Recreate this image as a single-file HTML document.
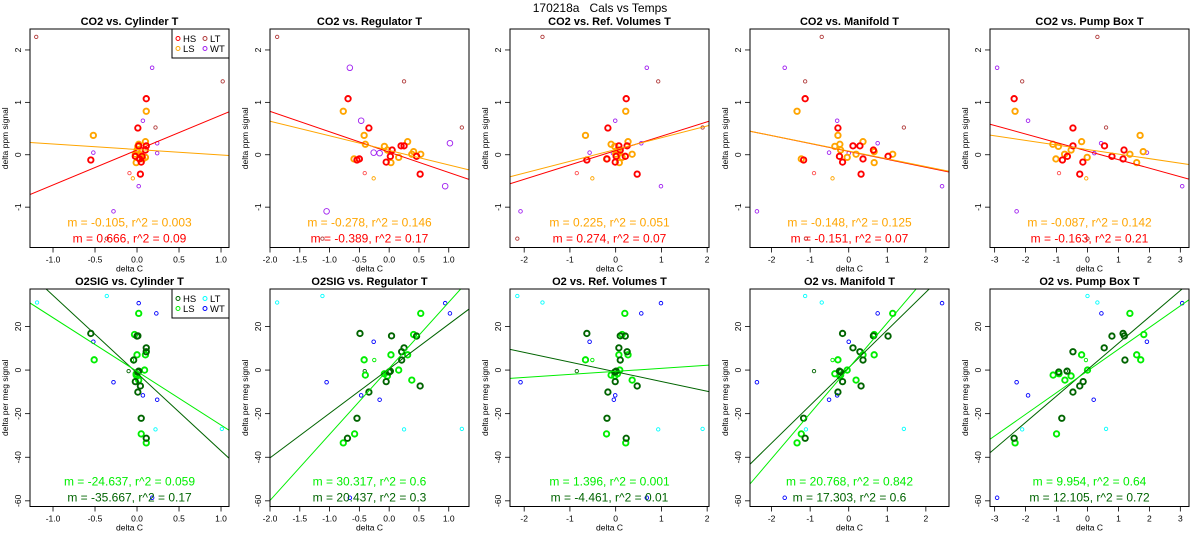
<!DOCTYPE html>
<html><head><meta charset="utf-8"><style>
html,body{margin:0;padding:0;background:#fff}
svg{display:block;font-family:"Liberation Sans",Arial,sans-serif}
</style></head><body>
<svg id="fig" width="1200" height="550" viewBox="0 0 1200 550" xmlns="http://www.w3.org/2000/svg">
<text x="600" y="12" text-anchor="middle" font-size="12" style="white-space:pre">170218a   Cals vs Temps</text>
</svg>
<script>
// ---- axis ranges ----
const xRanges = [[-1.274,1.095],[-2.0,1.34],[-2.31,2.04],[-2.56,2.6],[-3.15,3.28]];
const xTicks = [[-1.0,-0.5,0.0,0.5,1.0],[-2.0,-1.5,-1.0,-0.5,0.0,0.5,1.0],[-2,-1,0,1,2],[-2,-1,0,1,2],[-3,-2,-1,0,1,2,3]];
const xTickLabels = [["-1.0","-0.5","0.0","0.5","1.0"],["-2.0","-1.5","-1.0","-0.5","0.0","0.5","1.0"],["-2","-1","0","1","2"],["-2","-1","0","1","2"],["-3","-2","-1","0","1","2","3"]];
const co2YRange = [-1.77,2.4];
const co2YTicks = [-1,0,1,2];
const o2YRange = [-62.6,37.2];
const o2YTicks = [-60,-40,-20,0,20];
const co2Titles = ["CO2 vs. Cylinder T","CO2 vs. Regulator T","CO2 vs. Ref. Volumes T","CO2 vs. Manifold T","CO2 vs. Pump Box T"];
const o2Titles = ["O2SIG vs. Cylinder T","O2SIG vs. Regulator T","O2 vs. Ref. Volumes T","O2 vs. Manifold T","O2 vs. Pump Box T"];

// ---- CO2 data ----
const co2HS_y = [1.07,0.51,0.17,0.17,-0.10,-0.03,-0.14,-0.37,-0.03,0.09,-0.08];
const co2HS_x = [[0.11,0.01,0.11,0.02,-0.55,-0.02,0.05,0.04,0.06,0.10,0.03],[-0.69,-0.34,0.2,0.25,-0.54,0.02,-0.05,0.52,0.46,0.05,-0.5],[0.23,-0.17,0.07,0.25,-0.63,0.01,-0.01,0.47,0.21,0.1,-0.19],[-1.13,-0.28,0.11,0.29,-1.17,-0.24,-0.16,0.32,1.02,0.64,0.37],[-2.37,-0.47,-0.47,0.55,-0.81,-0.65,-0.15,-0.25,0.79,1.18,1.15]];
const co2LS_y = [0.83,0.37,0.20,0.16,0.25,0.09,0.01,-0.08,-0.05,0.01,0.06,-0.15];
const co2LS_x = [[0.11,-0.52,0.02,0.01,0.10,0.0,0.03,0.07,0.1,-0.02,0.0,-0.01],[-0.77,-0.42,-0.40,-0.08,0.31,-0.03,0.38,-0.59,0.16,0.53,0.41,0.03],[0.22,-0.66,-0.1,-0.02,0.27,0.04,0.36,-0.2,0.14,0,0.09,0.08],[-1.34,-0.28,-0.23,-0.36,0.37,-0.21,0.19,-1.23,-0.04,1.14,0.66,0.66],[-2.34,1.70,-1.12,-0.94,-0.19,-0.53,-0.74,-1.02,-0.01,1.37,1.80,1.59]];
const co2LT_y = [2.25,1.40,0.52,-1.60];
const co2LT_x = [[-1.2,1.02,0.22,-0.36],[-1.88,0.25,1.22,-1.12],[-1.6,0.93,1.9,-2.15],[-0.7,-1.13,1.43,-1.11],[0.32,-2.11,0.6,0.0]];
const co2WT_y = [1.66,0.65,0.22,0.04,0.03,-0.60,-1.08];
const co2WT_x = [[0.18,0.07,0.24,-0.52,0.24,0.02,-0.28],[-0.66,-0.47,1.02,-0.26,-0.16,0.94,-1.05],[0.68,-0.01,0.56,-0.57,-0.06,0.99,-2.08],[-1.66,-0.3,0.75,-0.51,0,2.42,-2.38],[-2.92,-1.92,0.44,1.92,0.22,3.06,-2.29]];
const co2HSt_y = [-0.35];
const co2HSt_x = [[-0.09],[-0.41],[-0.85],[-0.9],[-0.92]];
const co2LSt_y = [-0.45];
const co2LSt_x = [[-0.05],[-0.26],[-0.51],[-0.42],[-0.04]];
const co2HS_m = [0.666,-0.389,0.274,-0.151,-0.163];
const co2HS_a = [0.09,0.05,0.08,0.063,0.07];
const co2HS_r2 = ["0.09","0.17","0.07","0.07","0.21"];
const co2LS_m = [-0.105,-0.278,0.225,-0.148,-0.087];
const co2LS_a = [0.1,0.084,0.1,0.07,0.10];
const co2LS_r2 = ["0.003","0.146","0.051","0.125","0.142"];

// ---- O2 data ----
const o2HS_y = [-31.3,-22.1,-10.1,-7.3,-5.3,-0.5,-0.9,8.4,10.2,15.6,16.8,15.7,4.6];
const o2HS_x = [[0.11,0.05,0.01,0.04,-0.02,0.02,0.01,0.11,0.11,0.0,-0.55,0.01,-0.04],[-0.70,-0.54,-0.34,0.52,-0.05,0.02,0.0,0.21,0.25,0.46,-0.49,0.04,0.21],[0.23,-0.19,-0.17,0.47,-0.01,0.01,-0.02,0.25,0.07,0.21,-0.63,0.1,0.1],[-1.13,-1.17,-0.28,0.32,-0.16,-0.24,-0.21,0.29,0.11,1.02,-0.16,0.64,0.37],[-2.37,-0.83,-0.47,-0.25,-0.14,-0.66,-0.93,-0.47,0.54,0.79,1.15,1.19,1.21]];
const o2LS_y = [-33.4,-29.3,-4.6,-2.7,-2.3,-1.7,0,7.0,7.0,4.7,16.3,26.0];
const o2LS_x = [[0.11,0.05,0.02,0.0,-0.01,-0.01,0.09,0.0,0.1,-0.51,-0.03,0.02],[-0.77,-0.58,0.38,-0.03,-0.40,-0.08,0.16,0.03,0.31,-0.42,0.41,0.53],[0.22,-0.2,0.36,-0.02,-0.1,0.04,0.09,0.07,0.27,-0.66,0.14,0.2],[-1.34,-1.23,0.19,-0.23,-0.21,-0.36,-0.04,0.66,0.37,-0.28,0.66,1.14],[-2.34,-1.0,-0.73,-0.53,-1.11,-0.92,0,-0.19,1.59,1.72,1.82,1.37]];
const o2LT_y = [34,31,-27.2,-27];
const o2LT_x = [[-0.36,-1.19,0.22,1.01],[-1.12,-1.88,0.25,1.22],[-2.15,-1.6,0.93,1.9],[-1.13,-0.7,-1.11,1.43],[0,0.32,-2.11,0.6]];
const o2WT_y = [30.7,26,13,-5.6,-11.6,-13.6,-58.6];
const o2WT_x = [[0.02,0.23,-0.52,-0.28,0.07,0.24,0.18],[0.94,1.02,-0.26,-1.05,-0.47,-0.16,-0.66],[0.99,0.56,-0.57,-2.08,-0.01,-0.04,0.68],[2.42,0.75,0,-2.38,-0.3,-0.51,-1.66],[3.06,0.45,1.92,-2.29,-1.92,0.2,-2.92]];
const o2HSt_y = [-0.5];
const o2HSt_x = [[-0.1],[-0.41],[-0.85],[-0.9],[-0.7]];
const o2LSt_y = [4.6];
const o2LSt_x = [[-0.06],[-0.25],[-0.51],[-0.42],[-0.05]];
const o2HS_m = [-35.667,20.437,-4.461,17.303,12.105];
const o2HS_a = [-1.4,0.6,-0.8,1.1,0.2];
const o2HS_r2 = ["0.17","0.3","0.01","0.6","0.72"];
const o2LS_m = [-24.637,30.317,1.396,20.768,9.954];
const o2LS_a = [-0.6,0.8,-0.6,0.9,-0.4];
const o2LS_r2 = ["0.059","0.6","0.001","0.842","0.64"];

const NS = "http://www.w3.org/2000/svg";
const svg = document.getElementById("fig");
function mk(tag, attrs, parent) {
  const e = document.createElementNS(NS, tag);
  for (const k in attrs) e.setAttribute(k, attrs[k]);
  (parent || svg).appendChild(e);
  return e;
}

function drawRow(row) {
  const isTop = row === 0;
  const top = isTop ? 29 : 289, bot = isTop ? 247.5 : 506.5;
  const yR = isTop ? co2YRange : o2YRange;
  const yT = isTop ? co2YTicks : o2YTicks;
  const titles = isTop ? co2Titles : o2Titles;
  const cHS = isTop ? "#ff0000" : "#006400";
  const cLS = isTop ? "#ffa500" : "#00ee00";
  const cLT = isTop ? "#b03a3a" : "#00ffff";
  const cWT = isTop ? "#a020f0" : "#0000ff";
  const cHSt = isTop ? "#ff5050" : "#006400";
  const cLSt = isTop ? "#ffa500" : "#00ee00";
  const groups = isTop ? [
    [co2LT_x, co2LT_y, cLT, 1.7, 0.9, "lt"], [co2WT_x, co2WT_y, cWT, 1.8, 0.9, "wt"],
    [co2HSt_x, co2HSt_y, cHSt, 1.7, 0.9, "hs-thin"], [co2LSt_x, co2LSt_y, cLSt, 1.7, 0.9, "ls-thin"],
    [co2LS_x, co2LS_y, cLS, 2.7, 1.9, "ls"], [co2HS_x, co2HS_y, cHS, 2.7, 1.9, "hs"]
  ] : [
    [o2LT_x, o2LT_y, cLT, 1.7, 0.9, "lt"], [o2WT_x, o2WT_y, cWT, 1.8, 0.9, "wt"],
    [o2HSt_x, o2HSt_y, cHSt, 1.7, 0.9, "hs-thin"], [o2LSt_x, o2LSt_y, cLSt, 1.7, 0.9, "ls-thin"],
    [o2LS_x, o2LS_y, cLS, 2.7, 1.9, "ls"], [o2HS_x, o2HS_y, cHS, 2.7, 1.9, "hs"]
  ];
  const lines = isTop ? [[co2HS_m, co2HS_a, cHS, "hs"], [co2LS_m, co2LS_a, cLS, "ls"]]
                      : [[o2HS_m, o2HS_a, cHS, "hs"], [o2LS_m, o2LS_a, cLS, "ls"]];
  const rowName = isTop ? "co2" : "o2";

  for (let p = 0; p < 5; p++) {
    const left = 30 + 240 * p, right = left + 199;
    const xr = xRanges[p];
    const sx = v => left + (v - xr[0]) / (xr[1] - xr[0]) * (right - left);
    const sy = v => bot - (v - yR[0]) / (yR[1] - yR[0]) * (bot - top);
    const g = mk("g", {});
    
    
    const cid = "clip" + row + p;
    const cp = mk("clipPath", {id: cid}, g);
    mk("rect", {x: left, y: top, width: right - left, height: bot - top}, cp);

    const t = mk("text", {x: (left + right) / 2, y: top - 4, "text-anchor": "middle", "font-size": 11, "font-weight": "bold"}, g);
    t.textContent = titles[p];
    
    

    yT.forEach(v => {
      const y = sy(v);
      mk("line", {x1: left - 5, x2: left, y1: y, y2: y, stroke: "#000", "stroke-width": 0.8}, g);
      const tl = mk("text", {x: left - 9, y: y, "text-anchor": "middle", "font-size": 8.5, transform: `rotate(-90 ${left - 9} ${y})`}, g);
      tl.textContent = String(v);
      
      
    });
    xTicks[p].forEach((v, i) => {
      const x = sx(v);
      mk("line", {x1: x, x2: x, y1: bot, y2: bot + 5, stroke: "#000", "stroke-width": 0.8}, g);
      const tl = mk("text", {x: x, y: bot + 15, "text-anchor": "middle", "font-size": 8.5}, g);
      tl.textContent = xTickLabels[p][i];
      
      
    });
    const xl = mk("text", {x: (left + right) / 2, y: bot + 24, "text-anchor": "middle", "font-size": 8.5}, g);
    xl.textContent = "delta C";
    
    
    const yl = mk("text", {x: left - 22, y: (top + bot) / 2, "text-anchor": "middle", "font-size": 8.5, transform: `rotate(-90 ${left - 22} ${(top + bot) / 2})`}, g);
    yl.textContent = isTop ? "delta ppm signal" : "delta per meg signal";
    
    

    groups.forEach(gr => {
      const xs = gr[0][p], ys = gr[1];
      let r = gr[3];
      if (isTop && p === 1 && gr[5] === "wt") r = 2.8;
      xs.forEach((xv, i) => {
        const c = mk("circle", {cx: sx(xv), cy: sy(ys[i]), r: r, fill: "none", stroke: gr[2], "stroke-width": gr[4], "clip-path": `url(#${cid})`}, g);
        
        
      });
    });

    lines.forEach(ln => {
      const m = ln[0][p], a = ln[1][p];
      const l = mk("line", {x1: sx(xr[0]), y1: sy(a + m * xr[0]), x2: sx(xr[1]), y2: sy(a + m * xr[1]), stroke: ln[2], "stroke-width": 1, "clip-path": `url(#${cid})`}, g);
      
      
    });

    const box = mk("rect", {x: left, y: top, width: right - left, height: bot - top, fill: "none", stroke: "#000", "stroke-width": 1}, g);
    
    

    const lsM = isTop ? co2LS_m : o2LS_m, lsR = isTop ? co2LS_r2 : o2LS_r2;
    const hsM = isTop ? co2HS_m : o2HS_m, hsR = isTop ? co2HS_r2 : o2HS_r2;
    const t1 = mk("text", {x: (left + right) / 2, y: bot - 21, "text-anchor": "middle", "font-size": 12, fill: cLS}, g);
    t1.textContent = `m = ${lsM[p].toFixed(3)}, r^2 = ${lsR[p]}`;
    
    
    const t2 = mk("text", {x: (left + right) / 2, y: bot - 5, "text-anchor": "middle", "font-size": 12, fill: cHS}, g);
    t2.textContent = `m = ${hsM[p].toFixed(3)}, r^2 = ${hsR[p]}`;
    
    

    if (p === 0) {
      const lg = mk("g", {}, g);
      
      
      mk("rect", {x: 172, y: top, width: 57, height: 29, fill: "#fff", stroke: "#000", "stroke-width": 1}, lg);
      const ents = [["HS", cHS, 178, top + 9.5], ["LS", cLS, 178, top + 19.5], ["LT", cLT, 205, top + 9.5], ["WT", cWT, 205, top + 19.5]];
      ents.forEach(en => {
        const ee = mk("g", {}, lg);
        
        
        mk("circle", {cx: en[2], cy: en[3], r: 2, fill: "none", stroke: en[1], "stroke-width": 1}, ee);
        const tx = mk("text", {x: en[2] + 5, y: en[3] + 3.5, "font-size": 9.5}, ee);
        tx.textContent = en[0];
      });
    }
  }
}
drawRow(0);
drawRow(1);
</script>
</body></html>
